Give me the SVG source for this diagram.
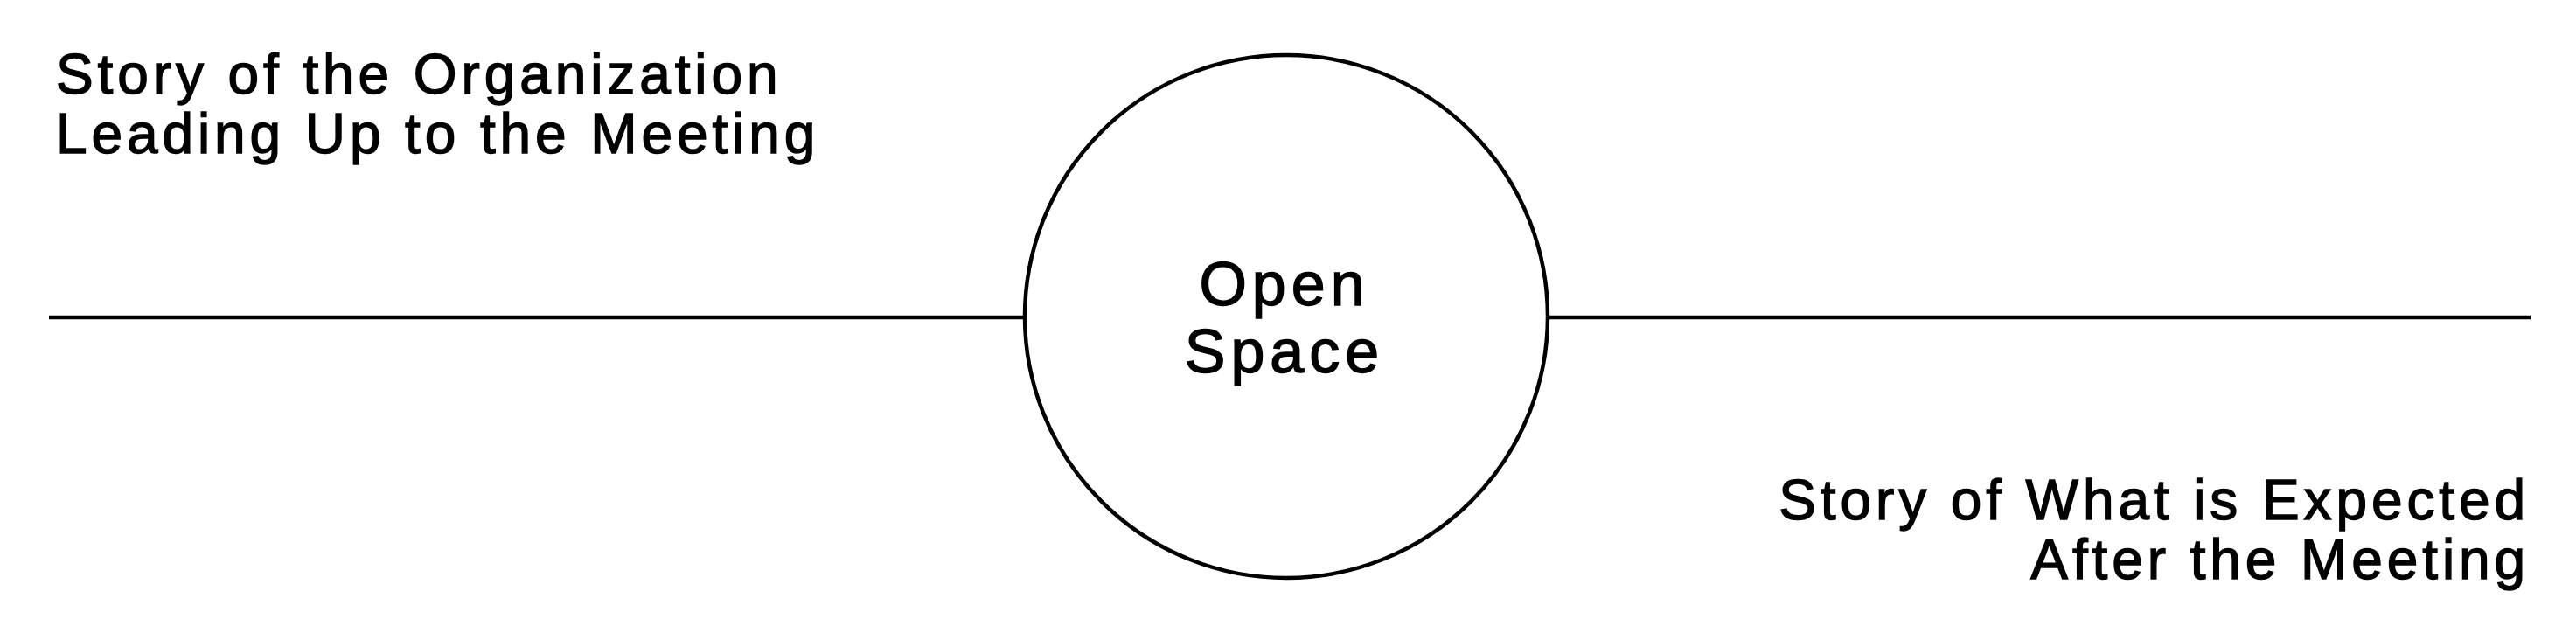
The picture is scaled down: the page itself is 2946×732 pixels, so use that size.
<svg xmlns="http://www.w3.org/2000/svg" width="2946" height="732" viewBox="0 0 2946 732">
<style>
.lbl{font-family:"Liberation Sans",Arial,sans-serif;font-size:64px;letter-spacing:4.9px;fill:#000;stroke:#000;stroke-width:1.4}
.ctr{font-family:"Liberation Sans",Arial,sans-serif;font-size:70px;letter-spacing:6px;fill:#000;stroke:#000;stroke-width:1.4;text-anchor:middle}
.ln{stroke:#000;stroke-width:4.5;fill:none}
</style>
<rect width="2946" height="732" fill="#fff"/>
<g id="connectors">
<line class="ln" x1="56" y1="363" x2="1172" y2="363"/>
<line class="ln" x1="1770" y1="363" x2="2894" y2="363"/>
</g>
<g id="open-space">
<circle class="ln" cx="1471" cy="362" r="299" fill="#fff"/>
<text class="ctr" x="1469" y="349">Open</text>
<text class="ctr" x="1469" y="426">Space</text>
</g>
<g id="story-before">
<text class="lbl" x="64" y="107">Story of the Organization</text>
<text class="lbl" x="64" y="175">Leading Up to the Meeting</text>
</g>
<g id="story-after">
<text class="lbl" x="2893" y="594" text-anchor="end">Story of What is Expected</text>
<text class="lbl" x="2893" y="662" text-anchor="end">After the Meeting</text>
</g>
</svg>
